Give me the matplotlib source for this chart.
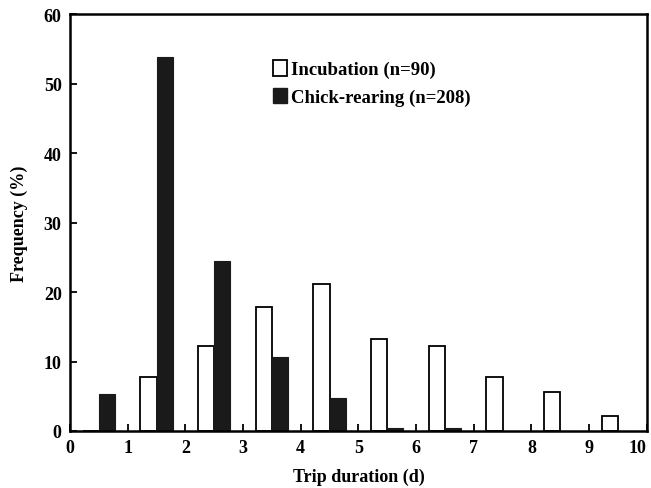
import matplotlib.pyplot as plt
from matplotlib.patches import Patch
import numpy as np

# Trip duration bins (lower edge, days)
bins = np.arange(0, 10)
incubation = [0, 7.8, 12.2, 17.8, 21.1, 13.3, 12.2, 7.8, 5.6, 2.2]
chick_rearing = [5.3, 53.8, 24.5, 10.6, 4.8, 0.5, 0.5, 0, 0, 0]
x_ticks = list(range(0, 11))
y_ticks = list(range(0, 61, 10))

plt.rcParams['font.family'] = ['Liberation Serif', 'DejaVu Serif']
plt.rcParams['font.weight'] = 'bold'

fig = plt.figure(figsize=(6.51, 4.89), dpi=100)
ax = fig.add_axes([0.1075, 0.1166, 0.886, 0.8525])

w = 0.28
ax.bar(bins + 0.5 - w, incubation, width=w, align='edge', color='white',
       edgecolor='black', linewidth=1.3)
ax.bar(bins + 0.5, chick_rearing, width=w, align='edge', color='#1a1a1a',
       edgecolor='#1a1a1a', linewidth=0.8)

ax.set_xlim(0, 10)
ax.set_ylim(0, 60)
ax.set_xticks(x_ticks)
ax.set_yticks(y_ticks)
ax.tick_params(direction='in', length=5, width=1.3, labelsize=13, pad=6)
# keep the "10" label inside the figure
ax.get_xticklabels()[-1].set_horizontalalignment('right')
for s in ax.spines.values():
    s.set_linewidth(1.8)

ax.set_xlabel('Trip duration (d)', fontsize=13, fontweight='bold', labelpad=8)
ax.set_ylabel('Frequency (%)', fontsize=13, fontweight='bold', labelpad=11)

handles = [Patch(facecolor='white', edgecolor='black', linewidth=1.3),
           Patch(facecolor='#1a1a1a', edgecolor='#1a1a1a')]
ax.legend(handles, ['Incubation (n=90)', 'Chick-rearing (n=208)'],
          loc='upper left', bbox_to_anchor=(0.322, 0.93), frameon=False,
          prop={'size': 13.5, 'weight': 'bold'}, handlelength=0.75,
          handleheight=0.9, handletextpad=0.25, labelspacing=0.5)

plt.savefig('out.png', dpi=100)
